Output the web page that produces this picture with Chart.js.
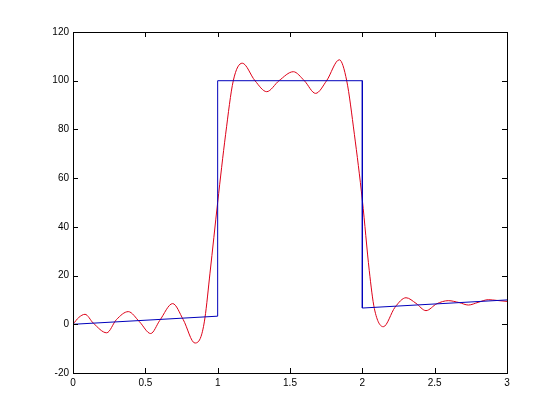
<!DOCTYPE html>
<html>
<head>
<meta charset="utf-8">
<script src="https://cdn.jsdelivr.net/npm/chart.js@4/dist/chart.umd.min.js"></script>
<style>
  html, body { margin: 0; padding: 0; background: #ffffff; }
  #wrap { width: 560px; height: 420px; }
</style>
</head>
<body>
<div id="wrap"><canvas id="plot" width="560" height="420"></canvas></div>
<script>
// step signal (blue)
const stepX = [0, 1, 1, 2, 2, 3];
const stepY = [0, 3.33, 100, 100, 6.67, 10];

// smoothed approximation (red)
const fitX = [0, 0.04, 0.083, 0.14, 0.233, 0.30, 0.382, 0.46, 0.537, 0.60, 0.689, 0.762, 0.843, 0.885, 0.912, 0.947,
  1.0, 1.055, 1.108, 1.17, 1.258, 1.339, 1.424, 1.523, 1.599, 1.677, 1.753, 1.841, 1.892, 1.945,
  2.0, 2.048, 2.083, 2.145, 2.226, 2.302, 2.371, 2.44, 2.514, 2.594, 2.67, 2.733, 2.8, 2.871, 2.93, 3.0];
const fitY = [0, 2.8, 4.1, 0.5, -3.5, 1.9, 5.2, 1.0, -3.8, 1.6, 8.5, 1.9, -7.7, -5.0, 2.6, 21,
  50, 78, 100, 107.2, 100, 95.5, 100, 103.7, 100, 94.8, 100, 108.6, 100, 78,
  51, 22, 6.5, -1.0, 7, 10.9, 8.6, 5.6, 8.4, 9.7, 8.9, 7.9, 9.0, 10.1, 9.8, 9.4];

const xMin = 0, xMax = 3, xStep = 0.5;
const yMin = -20, yMax = 120, yStep = 20;

const toPoints = (xs, ys) => xs.map((x, i) => ({ x: x, y: ys[i] }));

// box around the axes with inward tick marks
const boxTicks = {
  id: "boxTicks",
  afterDraw(chart) {
    const { ctx, chartArea: a, scales } = chart;
    ctx.save();
    ctx.strokeStyle = "#000";
    ctx.lineWidth = 1;
    ctx.strokeRect(Math.round(a.left) + 0.5, Math.round(a.top) + 0.5,
      Math.round(a.right - a.left), Math.round(a.bottom - a.top));
    const len = 5;
    ctx.beginPath();
    scales.x.ticks.forEach(t => {
      const px = Math.round(scales.x.getPixelForValue(t.value)) + 0.5;
      ctx.moveTo(px, a.bottom); ctx.lineTo(px, a.bottom - len);
      ctx.moveTo(px, a.top); ctx.lineTo(px, a.top + len);
    });
    scales.y.ticks.forEach(t => {
      const py = Math.round(scales.y.getPixelForValue(t.value)) + 0.5;
      ctx.moveTo(a.left, py); ctx.lineTo(a.left + len, py);
      ctx.moveTo(a.right, py); ctx.lineTo(a.right - len, py);
    });
    ctx.stroke();
    ctx.restore();
  }
};

new Chart(document.getElementById("plot"), {
  type: "line",
  data: {
    datasets: [
      {
        label: "step",
        data: toPoints(stepX, stepY),
        borderColor: "#0000bb",
        borderWidth: 1,
        pointRadius: 0,
        tension: 0,
      },
      {
        label: "fit",
        data: toPoints(fitX, fitY),
        borderColor: "#dd0018",
        borderWidth: 1,
        pointRadius: 0,
        cubicInterpolationMode: "monotone",
      },
    ],
  },
  options: {
    responsive: false,
    animation: false,
    layout: { padding: { left: 0, right: 53, top: 32, bottom: 27 } },
    plugins: {
      legend: { display: false },
      tooltip: { enabled: false },
    },
    scales: {
      x: {
        type: "linear",
        min: xMin, max: xMax,
        grid: { display: false, drawTicks: false },
        border: { display: false },
        ticks: {
          stepSize: xStep, color: "#000", padding: 4,
          font: { family: "Liberation Sans, Arial", size: 10 },
          callback: v => String(Math.round(v * 10) / 10),
        },
        afterFit(s) { s.height = 20; },
      },
      y: {
        min: yMin, max: yMax,
        grid: { display: false, drawTicks: false },
        border: { display: false },
        ticks: { stepSize: yStep, color: "#000", padding: 4, font: { family: "Liberation Sans, Arial", size: 10 } },
        afterFit(s) { s.width = 73; },
      },
    },
  },
  plugins: [boxTicks],
});
</script>
</body>
</html>
